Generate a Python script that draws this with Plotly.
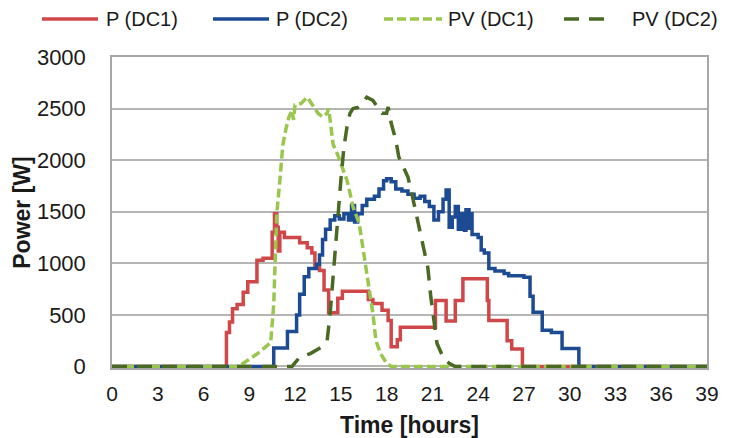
import plotly.graph_objects as go

# Time axis (hours) and power readings (W) for each DC bus
t_p1 = [0, 7.5, 7.7, 7.9, 8.2, 8.6, 8.9, 9.5, 9.9, 10.5, 10.65, 10.8, 10.9, 11.0, 11.3,
        12.3, 12.8, 13.1, 13.3, 13.6, 13.9, 14.2, 14.8, 15.1, 16.8, 17.1, 17.7, 18.1,
        18.3, 18.7, 18.9, 21.2, 21.9, 22.5, 23.0, 24.6, 24.7, 25.9, 26.2, 26.9, 39]
p_dc1 = [0, 330, 430, 560, 600, 720, 820, 1030, 1050, 1300, 1480, 1350, 1120, 1300, 1250,
         1200, 1150, 1100, 970, 930, 740, 520, 660, 730, 650, 610, 545, 445,
         190, 260, 380, 640, 440, 640, 850, 640, 445, 250, 170, 0, 0]

t_p2 = [0, 10.6, 11.5, 12.1, 12.3, 12.6, 12.9, 13.4, 13.6, 13.8, 14.0, 14.3, 14.6, 14.9,
        15.2, 15.5, 15.7, 15.9, 16.1, 16.4, 16.7, 17.2, 17.5, 17.8, 18.0, 18.3, 18.6,
        19.0, 19.4, 19.8, 20.2, 20.5, 20.8, 21.1, 21.4, 21.7, 21.9, 22.1, 22.3, 22.5,
        22.7, 22.9, 23.1, 23.2, 23.4, 23.5, 23.6, 24.0, 24.2, 24.4, 24.7, 25.1, 25.7,
        26.0, 27.0, 27.4, 27.6, 28.2, 28.8, 29.5, 30.6, 39]
p_dc2 = [0, 180, 340, 500, 700, 870, 950, 990, 1080, 1230, 1330, 1420, 1460, 1430,
         1480, 1420, 1560, 1400, 1480, 1560, 1620, 1650, 1720, 1800, 1820, 1790, 1720,
         1700, 1670, 1630, 1650, 1600, 1550, 1420, 1500, 1620, 1710, 1350, 1450, 1550,
         1330, 1480, 1320, 1520, 1340, 1480, 1280, 1250, 1130, 1100, 950, 925, 900,
         880, 865, 680, 525, 350, 330, 175, 0, 0]

t_pv1 = [0, 8.3, 9.5, 10.4, 10.6, 10.8, 11.0, 11.2, 11.4, 11.6, 11.8, 11.9, 12.0, 12.4,
         12.8, 13.2, 13.5, 13.8, 14.1, 14.2, 14.3, 14.5, 14.8, 15.1, 15.4, 15.6, 15.8,
         16.2, 16.5, 16.8, 17.1, 17.3, 17.6, 18.0, 18.3, 39]
pv_dc1 = [0, 0, 120, 230, 600, 1480, 1800, 2150, 2300, 2420, 2480, 2390, 2535, 2550,
          2610, 2515, 2455, 2420, 2455, 2500, 2360, 2150, 2050, 1930, 1805, 1680, 1545,
          1390, 1100, 770, 515, 250, 125, 30, 0, 0]

t_pv2 = [0, 11.8, 12.3, 13.0, 13.7, 14.1, 14.3, 14.5, 14.8, 15.0, 15.2, 15.4, 15.6, 15.8,
         16.1, 16.4, 16.7, 17.1, 17.4, 17.7, 18.0, 18.1, 18.3, 18.6, 18.8, 19.1, 19.4,
         19.6, 19.8, 20.0, 20.2, 20.4, 20.7, 20.9, 21.1, 21.3, 21.7, 22.1, 22.5, 39]
pv_dc2 = [0, 0, 90, 125, 185, 250, 515, 900, 1420, 1805, 2125, 2320, 2455, 2500,
          2510, 2550, 2610, 2580, 2515, 2455, 2455, 2515, 2360, 2195, 2030, 1930, 1835,
          1710, 1580, 1450, 1320, 1155, 960, 670, 415, 225, 90, 30, 0, 0]

x_ticks = list(range(0, 40, 3))
y_ticks = list(range(0, 3001, 500))

RED = "#D0474A"
BLUE = "#1C4A93"
LIGHT_GREEN = "#9AC64E"
DARK_GREEN = "#4A6A24"
FONT = "Liberation Sans"
TEXT = "#1a1a1a"

W, H = 730, 438
M_L, M_R, M_T, M_B = 112, 23, 57, 70
PLOT_W = W - M_L - M_R
PLOT_H = H - M_T - M_B

series = [
    ("P (DC1)", t_p1, p_dc1, dict(color=RED, width=3.5, shape="hv")),
    ("P (DC2)", t_p2, p_dc2, dict(color=BLUE, width=3.5, shape="hv")),
    ("PV (DC1)", t_pv1, pv_dc1, dict(color=LIGHT_GREEN, width=3.5, dash="9px,4px")),
    ("PV (DC2)", t_pv2, pv_dc2, dict(color=DARK_GREEN, width=3.5, dash="15px,10px")),
]

fig = go.Figure()
for name, xs, ys, line in series:
    fig.add_trace(go.Scatter(x=xs, y=ys, name=name, mode="lines", line=line,
                             showlegend=False))

# Legend row across the top: sample line followed by its label
legend_x = [42, 213, 384, 564]   # left edge of each sample line (px)
legend_len = [56, 56, 58, 50]
legend_gap = [6, 5, 4, 16]
legend_y_px = 19


def px_to_paper_x(px):
    return (px - M_L) / PLOT_W


def px_to_paper_y(py):
    return (H - M_B - py) / PLOT_H


ly = px_to_paper_y(legend_y_px)
for (name, _, _, line), x0, ln, gap in zip(series, legend_x, legend_len, legend_gap):
    fig.add_shape(type="line", xref="paper", yref="paper",
                  x0=px_to_paper_x(x0), x1=px_to_paper_x(x0 + ln), y0=ly, y1=ly,
                  line=dict(color=line["color"], width=3.5, dash=line.get("dash", "solid")))
    fig.add_annotation(text=name, xref="paper", yref="paper",
                       x=px_to_paper_x(x0 + ln + gap), y=ly, xanchor="left",
                       yanchor="middle", showarrow=False,
                       font=dict(family=FONT, size=20, color=TEXT))

fig.update_layout(
    width=W, height=H,
    margin=dict(l=M_L, r=M_R, t=M_T, b=M_B),
    paper_bgcolor="white", plot_bgcolor="white",
    font=dict(family=FONT, size=21, color=TEXT),
    showlegend=False,
)
fig.update_xaxes(range=[0, 39], tickvals=x_ticks, ticktext=[str(v) for v in x_ticks],
                 showgrid=False, zeroline=False, showline=True, linecolor="#A6A6A6",
                 linewidth=1.5, mirror=True, ticks="", automargin=False,
                 tickfont=dict(size=21), ticklabelstandoff=6,
                 title=dict(text="<b>Time [hours]</b>", font=dict(size=23), standoff=15))
fig.update_yaxes(range=[-15, 3000], tickvals=y_ticks, ticktext=[str(v) for v in y_ticks],
                 showgrid=True, gridcolor="#B5B5B5", gridwidth=1.5, zeroline=False,
                 showline=True, linecolor="#A6A6A6", linewidth=1.5, mirror=True,
                 ticks="", tickfont=dict(size=22), ticklabelstandoff=20, automargin=False,
                 title=dict(text="<b>Power [W]</b>", font=dict(size=23), standoff=0))

fig.write_html("out.html")
